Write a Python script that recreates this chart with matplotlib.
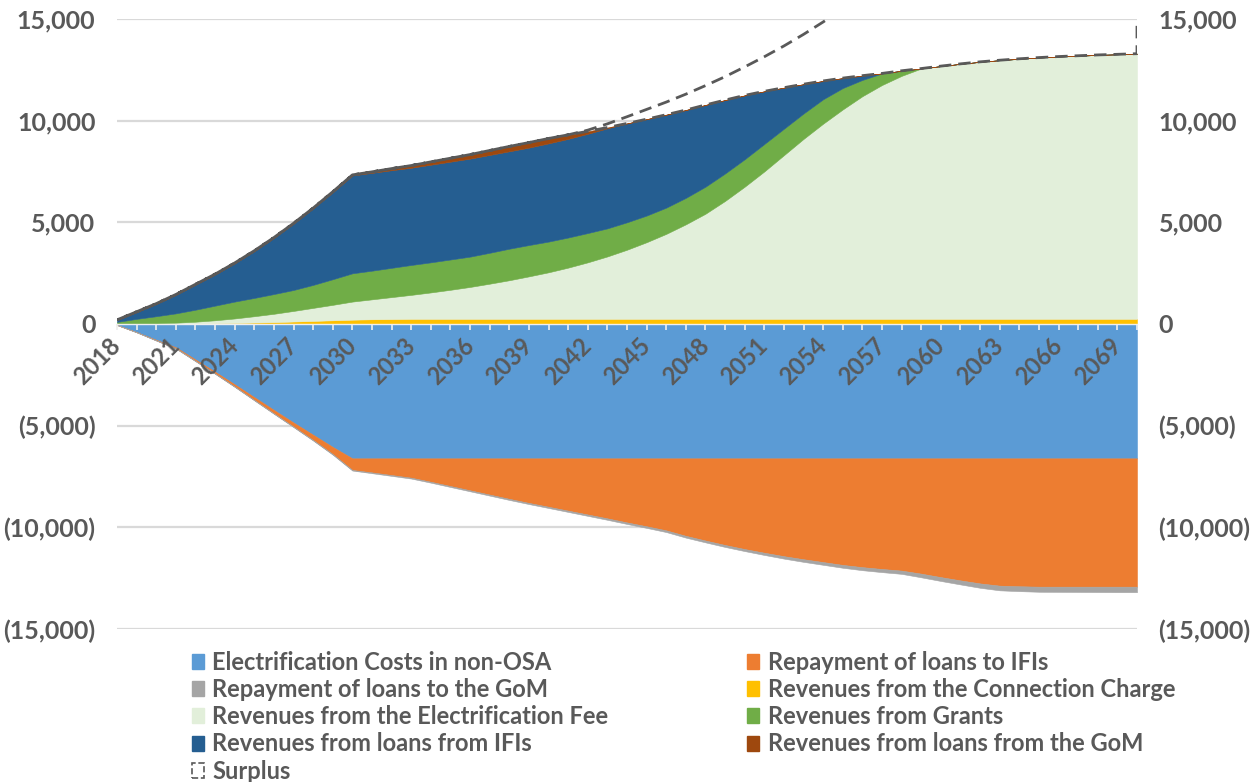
import matplotlib
matplotlib.use('Agg')
import matplotlib.pyplot as plt
from matplotlib.patches import Patch
from matplotlib.ticker import FuncFormatter, MultipleLocator

plt.rcParams['font.family'] = ['Lato', 'DejaVu Sans']
plt.rcParams['font.weight'] = 'bold'

TEXT = '#595959'

years = list(range(2018, 2071))

# inflows (stacked upwards)
connection_charge = [0, 0, 0, 10, 20, 30, 50, 70, 90, 120, 150, 180, 210, 230, 240] + [250] * 38
electrification_fee = [
    0, 0, 20, 50, 90, 150, 220, 310, 410, 520, 640, 760,
    890, 980, 1080, 1180, 1300, 1430, 1570, 1730, 1900, 2090,
    2290, 2520, 2780, 3070, 3400, 3770, 4180, 4650, 5170, 5800,
    6500, 7250, 8050, 8850, 9600, 10300, 10950, 11500, 11950, 12310,
    12430, 12540, 12640, 12720, 12790, 12850, 12900, 12940, 12980, 13010, 13040]
grants = [
    100, 250, 360, 460, 590, 720, 830, 900, 970, 1030, 1130, 1260, 1390, 1410,
    1440, 1470, 1480, 1490, 1490, 1520, 1550, 1540, 1510, 1480, 1440, 1380, 1350,
    1310, 1290, 1300, 1330, 1350, 1350, 1350, 1300, 1250, 1200, 1050, 800, 570,
    250] + [0] * 12
loans_ifi = [
    90, 330, 600, 910, 1230, 1530, 1880, 2300, 2760, 3260, 3760, 4280, 4810, 4810,
    4800, 4780, 4800, 4810, 4820, 4810, 4790, 4790, 4830, 4850, 4880, 4920, 4860,
    4740, 4570, 4320, 4020, 3610, 3140, 2590, 2020, 1440, 900, 490, 210] + [0] * 14
loans_gom = [10] + [20] * 11 + [
    30, 50, 80, 110, 140, 170, 200, 220, 240, 250, 240, 200, 120, 40] + [0] * 27
surplus = [0] * 24 + [
    60, 180, 330, 480, 620, 780, 950, 1150, 1400, 1700, 2050, 2450, 2900, 3400,
    3950, 4500, 5100, 5700, 6300, 6900, 7500, 8100, 8700, 9300, 9900, 10500,
    11100, 11700, 12300]

# outflows (stacked downwards)
electrification_costs = [
    50, 400, 780, 1150, 1750, 2350, 2970, 3600, 4230, 4850, 5450, 6050] + [6610] * 41
repayment_ifi = [
    0, 10, 30, 50, 70, 90, 110, 140, 170, 200, 260, 350, 570, 690, 820, 950, 1150,
    1360, 1570, 1780, 1990, 2190, 2380, 2570, 2760, 2950, 3150, 3340, 3540, 3810,
    4040, 4260, 4460, 4640, 4810, 4960, 5100, 5240, 5350, 5440, 5520, 5670, 5840,
    6000, 6150, 6260, 6290] + [6310] * 6
repayment_gom = [
    0, 0, 5, 10, 10, 15, 15, 20, 20, 25, 25, 30, 30, 40, 42, 44, 46, 48, 50, 52,
    55, 58, 60, 64, 68, 72, 76, 80, 84, 88, 92, 96, 100, 110, 120, 130, 135, 140,
    150, 155, 160, 180, 190, 200, 215, 230, 240, 250, 255, 260, 265, 270, 270]

pos_series = [connection_charge, electrification_fee, grants, loans_ifi, loans_gom]
pos_colors = ['#FFC000', '#E2EFDA', '#70AD47', '#255E91', '#9E480E']
neg_series = [electrification_costs, repayment_ifi, repayment_gom]
neg_colors = ['#5B9BD5', '#ED7D31', '#A5A5A5']

fig = plt.figure(figsize=(12.58, 7.82), dpi=100)
ax = fig.add_axes([0.0930, 0.1957, 0.8108, 0.7801])

for g in (-15000, -10000, -5000, 5000, 10000, 15000):
    ax.axhline(g, color='#D9D9D9', linewidth=1.6, zorder=0)

ax.stackplot(years, *pos_series, colors=pos_colors, edgecolor='face',
             linewidth=0.4, zorder=1)
ax.stackplot(years, *[[-v for v in s] for s in neg_series], colors=neg_colors,
             edgecolor='face', linewidth=0.4, zorder=1)

# surplus sits on top of the inflow stack, outlined only
top = [sum(v) for v in zip(*pos_series)]
ax.fill_between(years, top, [t + s for t, s in zip(top, surplus)],
                facecolor='none', edgecolor='#595959', linestyle=(0, (4.5, 2.5)),
                linewidth=2, zorder=2)

ax.set_xlim(2018, 2070)
ax.set_ylim(-15000, 15000)
ax.yaxis.set_major_locator(MultipleLocator(5000))
ax.yaxis.set_major_formatter(FuncFormatter(
    lambda v, pos: f'({abs(v):,.0f})' if v < 0 else f'{v:,.0f}'))
ax.tick_params(axis='y', left=False, right=False, labelleft=True,
               labelright=True, labelsize=18, labelcolor=TEXT, pad=12)

for side in ('left', 'right', 'top'):
    ax.spines[side].set_visible(False)
ax.spines['bottom'].set_position(('data', 0))
ax.spines['bottom'].set_color('#EEEEEE')
ax.spines['bottom'].set_linewidth(1.0)
ax.spines['bottom'].set_zorder(3)

ax.set_xticks(years)
ax.set_xticklabels([str(y) if (y - 2018) % 3 == 0 else '' for y in years])
ax.tick_params(axis='x', direction='out', length=4, width=1.2, color='#EEEEEE',
               labelsize=17, labelcolor=TEXT, pad=9)
for lbl in ax.get_xticklabels():
    lbl.set_rotation(45)
    lbl.set_ha('right')
    lbl.set_va('center')
    lbl.set_rotation_mode('anchor')

handles = [
    Patch(color=neg_colors[0], label='Electrification Costs in non-OSA'),
    Patch(color=neg_colors[2], label='Repayment of loans to the GoM'),
    Patch(color=pos_colors[1], label='Revenues from the Electrification Fee'),
    Patch(color=pos_colors[3], label='Revenues from loans from IFIs'),
    Patch(facecolor='none', edgecolor='#595959', linestyle='--', linewidth=1.2,
          label='Surplus'),
    Patch(color=neg_colors[1], label='Repayment of loans to IFIs'),
    Patch(color=pos_colors[0], label='Revenues from the Connection Charge'),
    Patch(color=pos_colors[2], label='Revenues from Grants'),
    Patch(color=pos_colors[4], label='Revenues from loans from the GoM'),
]
fig.legend(handles=handles, loc='upper left', bbox_to_anchor=(0.1526, 0.168),
           ncol=2, frameon=False, fontsize=17, labelcolor=TEXT,
           handlelength=0.5, handleheight=0.6, handletextpad=0.35,
           labelspacing=0.18, columnspacing=5.9, borderpad=0, borderaxespad=0)

fig.savefig('out.png', dpi=100)
